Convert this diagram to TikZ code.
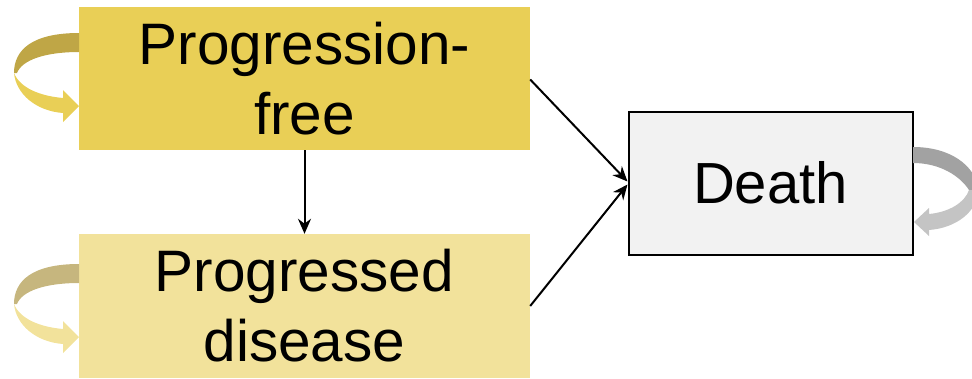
\documentclass[tikz,border=0pt]{standalone}
\usepackage{fontspec}
\setmainfont{Liberation Sans}
\usetikzlibrary{arrows.meta}
\definecolor{pfcol}{HTML}{E9CF56}
\definecolor{pfdark}{HTML}{BFA646}
\definecolor{pdcol}{HTML}{F2E29B}
\definecolor{pddark}{HTML}{C6B67E}
\definecolor{dcol}{HTML}{F2F2F2}
\definecolor{gdark}{HTML}{A2A2A2}
\definecolor{glight}{HTML}{C4C4C4}
\tikzset{
  statebox/.style={inner sep=0pt, minimum width=451pt, minimum height=143pt, align=center,
    font=\fontsize{58.5}{70}\selectfont},
  conn/.style={line width=2pt, -{Stealth[length=15pt,width=13pt]}}
}
\begin{document}
\begin{tikzpicture}[x=1pt,y=-1pt]
\useasboundingbox (0,0) rectangle (972,378);
\begin{scope}
\clip (0,0) rectangle (972,378);
% boxes
\node[statebox, fill=pfcol] (pf) at (304.5,78.5) {Progression-\\free};
\node[statebox, fill=pdcol, minimum height=144pt] (pd) at (304.5,306) {Progressed\\disease};
\node[draw, line width=2pt, fill=dcol, inner sep=0pt, minimum width=284pt, minimum height=143pt,
  font=\fontsize{58}{70}\selectfont] (death) at (770.5,183) {Death};
% self loops (left)
\foreach \dy/\dk/\lt in {0/pfdark/pfcol, 231/pddark/pdcol}{
  \begin{scope}[yshift=-\dy pt]
  \fill[\dk] (79,33) .. controls (32,33) and (14,50) .. (14,73)
     -- (17,73) .. controls (22,60) and (45,52) .. (79,52) -- cycle;
  \fill[\lt] (14,73) .. controls (16,94) and (36,111) .. (63,113)
     -- (63,122) -- (79,106) -- (63,90) -- (63,98)
     .. controls (40,96) and (20,88) .. (14,73) -- cycle;
  \end{scope}
}
% self loop (right)
\fill[gdark] (913,147) .. controls (950,147) and (975,165) .. (979,190)
   -- (969,190) .. controls (960,176) and (940,163) .. (913,163) -- cycle;
\fill[glight] (979,190) .. controls (977,212) and (956,228) .. (929,230)
   -- (929,236) -- (914,222) -- (929,208) -- (929,214)
   .. controls (950,212) and (965,202) .. (969,190) -- cycle;
\end{scope}
% connectors
\draw[conn] (pf.south) -- (pd.north);
\draw[conn] ([yshift=-1pt]pf.east) -- ([yshift=1.5pt]death.west);
\draw[conn] (pd.east) -- ([yshift=-1.5pt]death.west);
\end{tikzpicture}
\end{document}
